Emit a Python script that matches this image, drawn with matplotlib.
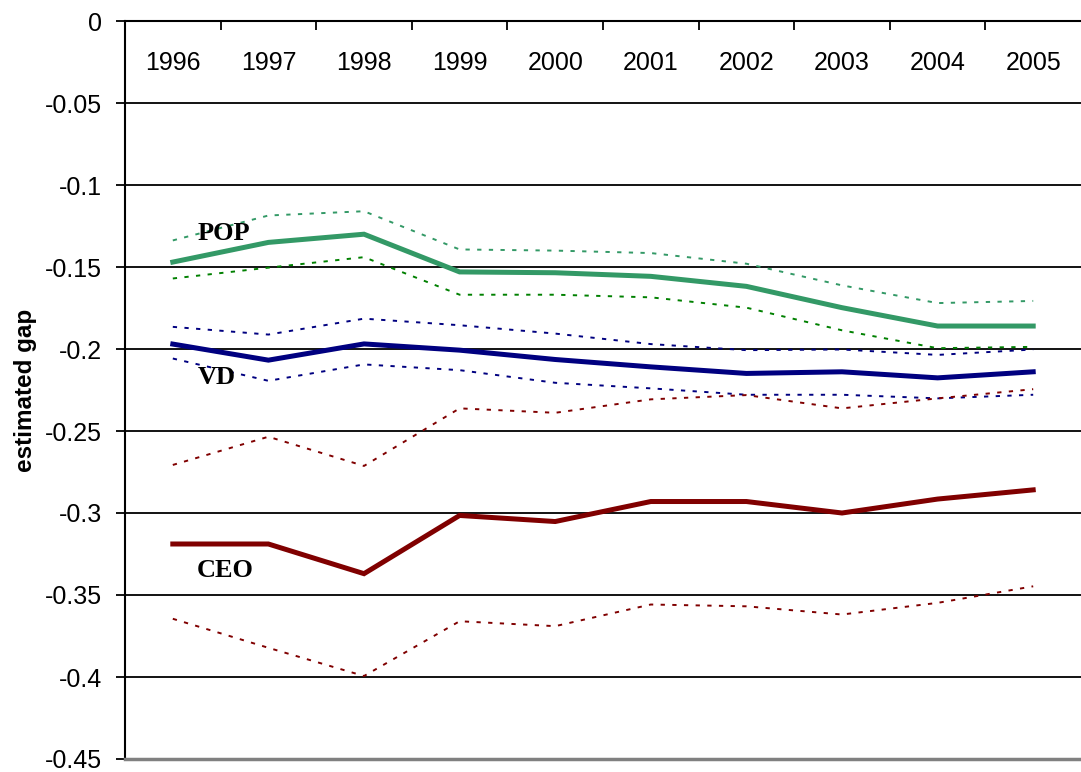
import matplotlib
matplotlib.use("Agg")
import matplotlib.pyplot as plt
import numpy as np

years = ["1996", "1997", "1998", "1999", "2000", "2001", "2002", "2003", "2004", "2005"]

pop = [-0.147, -0.135, -0.130, -0.153, -0.1535, -0.1557, -0.1618, -0.1748, -0.186, -0.186]
pop_upper = [-0.1338, -0.1186, -0.116, -0.1393, -0.140, -0.1415, -0.148, -0.1612, -0.172, -0.1707]
pop_lower = [-0.157, -0.1504, -0.144, -0.1669, -0.1669, -0.1685, -0.1748, -0.1886, -0.1995, -0.1987]

vd = [-0.197, -0.2068, -0.1969, -0.2007, -0.2064, -0.2109, -0.2149, -0.2139, -0.2176, -0.2139]
vd_upper = [-0.1865, -0.1912, -0.1815, -0.1855, -0.1906, -0.197, -0.2007, -0.2003, -0.2036, -0.2003]
vd_lower = [-0.2058, -0.2194, -0.2094, -0.2129, -0.2206, -0.224, -0.2279, -0.2279, -0.2301, -0.2279]

ceo = [-0.3189, -0.3189, -0.337, -0.3015, -0.3052, -0.293, -0.293, -0.300, -0.2915, -0.2859]
ceo_upper = [-0.2707, -0.2535, -0.2713, -0.2362, -0.2389, -0.2307, -0.2281, -0.2362, -0.2301, -0.2245]
ceo_lower = [-0.3645, -0.3822, -0.3994, -0.366, -0.369, -0.3558, -0.3569, -0.3619, -0.3548, -0.3447]

labels = ["POP", "VD", "CEO"]

c_pop = "#339966"
c_pop_lo = "#008000"
c_vd = "#000080"
c_ceo = "#800000"

fig = plt.figure(figsize=(10.81, 7.72), dpi=100)
ax = fig.add_axes([125 / 1081, 1 - 759 / 772, 1 - 125 / 1081, (759 - 21) / 772])

x = np.arange(len(years))
dot = (0, (2.2, 3.8))
dlw = 1.4
slw = 3.6

ax.plot(x, pop_upper, color=c_pop, lw=dlw, ls=dot, zorder=3)
ax.plot(x, pop_lower, color=c_pop_lo, lw=dlw, ls=dot, zorder=3)
ax.plot(x, vd_upper, color=c_vd, lw=dlw, ls=dot, zorder=3)
ax.plot(x, vd_lower, color=c_vd, lw=dlw, ls=dot, zorder=3)
ax.plot(x, ceo_upper, color=c_ceo, lw=dlw, ls=dot, zorder=3)
ax.plot(x, ceo_lower, color=c_ceo, lw=dlw, ls=dot, zorder=3)
ax.plot(x, pop, color=c_pop, lw=slw, zorder=4, solid_joinstyle="miter")
ax.plot(x, vd, color=c_vd, lw=slw, zorder=4, solid_joinstyle="miter")
ax.plot(x, ceo, color=c_ceo, lw=slw, zorder=4, solid_joinstyle="miter")

ax.set_xlim(-0.5, len(years) - 0.5)
ax.set_ylim(-0.45, 0)

yt = np.round(np.arange(0, -0.4501, -0.05), 2)
ax.set_yticks(yt)
ax.set_yticklabels(["0" if v == 0 else ("%g" % v) for v in yt])
for v in yt[1:-1]:
    ax.axhline(v, color="black", lw=1.3, zorder=1)

ax.set_xticks(x)
ax.set_xticklabels(years)
ax.set_xticks(np.arange(0.5, len(years) - 1, 1), minor=True)
ax.tick_params(axis="x", which="major", top=False, bottom=False, labeltop=True,
               labelbottom=False, length=0, pad=-39, labelsize=18)
ax.tick_params(axis="x", which="minor", top=True, bottom=False, direction="in",
               length=6.5, width=1.3, color="black")
ax.tick_params(axis="y", direction="out", length=6.5, width=1.3, labelsize=18, pad=10)

for lab in ax.get_xticklabels() + ax.get_yticklabels():
    lab.set_fontfamily("Liberation Sans")

ax.spines["right"].set_visible(False)
ax.spines["top"].set_linewidth(1.5)
ax.spines["left"].set_linewidth(1.5)
ax.spines["bottom"].set_color("#808080")
ax.spines["bottom"].set_linewidth(2.5)

ax.set_ylabel("estimated gap", fontsize=17.5, fontweight="bold", family="Liberation Sans", labelpad=6)

ax.text(0.53, -0.1296, labels[0], fontsize=19, fontweight="bold", family="Liberation Serif",
        ha="center", va="center", zorder=5)
ax.text(0.46, -0.2175, labels[1], fontsize=19, fontweight="bold", family="Liberation Serif",
        ha="center", va="center", zorder=5)
ax.text(0.55, -0.3349, labels[2], fontsize=19, fontweight="bold", family="Liberation Serif",
        ha="center", va="center", zorder=5)

fig.savefig("out.png", dpi=100)
